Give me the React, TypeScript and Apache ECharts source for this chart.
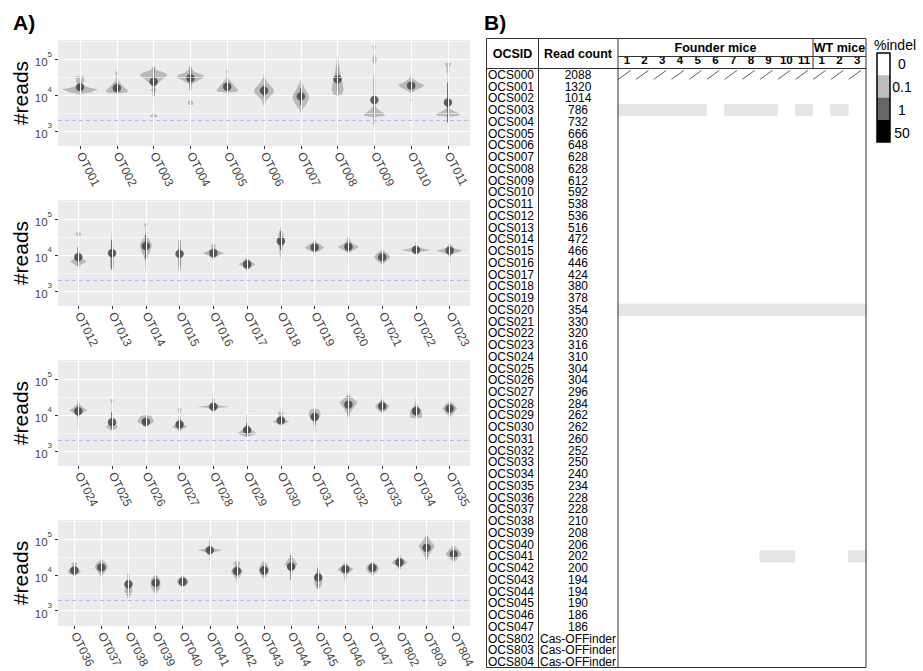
import React, { useEffect, useRef } from 'react';
import * as echarts from 'echarts';

const FONT = '"Liberation Sans", Arial, Helvetica, sans-serif';

// ---------- Panel A data ----------
const otNames = [
  'OT001','OT002','OT003','OT004','OT005','OT006','OT007','OT008','OT009','OT010','OT011',
  'OT012','OT013','OT014','OT015','OT016','OT017','OT018','OT019','OT020','OT021','OT022','OT023',
  'OT024','OT025','OT026','OT027','OT028','OT029','OT030','OT031','OT032','OT033','OT034','OT035',
  'OT036','OT037','OT038','OT039','OT040','OT041','OT042','OT043','OT044','OT045','OT046','OT047','OT802','OT803','OT804',
];
const panelSizes = [11, 12, 12, 15];

// mean of log10(#reads) per target
const meanLog10 = [
  4.22, 4.19, 4.37, 4.47, 4.23, 4.12, 3.96, 4.44, 3.86, 4.26, 3.79,
  3.94, 4.05, 4.25, 4.03, 4.05, 3.74, 4.39, 4.21, 4.23, 3.94, 4.14, 4.12,
  4.11, 3.80, 3.81, 3.74, 4.23, 3.58, 3.85, 3.95, 4.29, 4.25, 4.11, 4.18,
  4.13, 4.21, 3.74, 3.78, 3.81, 4.69, 4.11, 4.13, 4.23, 3.93, 4.16, 4.20, 4.35, 4.76, 4.58,
];
const errLowLog10 = [
  4.15, 4.10, 3.96, 4.14, 4.14, 3.96, 3.72, 4.10, 3.17, 4.15, 3.23,
  3.70, 3.60, 3.90, 3.68, 3.97, 3.65, 4.14, 4.14, 4.14, 3.86, 4.09, 4.07,
  3.95, 3.60, 3.74, 3.55, 4.19, 3.40, 3.76, 3.72, 4.00, 4.10, 3.98, 4.05,
  4.05, 4.08, 3.35, 3.58, 3.72, 4.62, 3.98, 4.00, 3.86, 3.62, 4.08, 4.10, 4.26, 4.46, 4.46,
];
const errHighLog10 = [
  4.30, 4.33, 4.79, 4.80, 4.33, 4.28, 4.19, 4.78, 4.56, 4.38, 4.35,
  4.22, 4.42, 4.56, 4.42, 4.13, 3.85, 4.66, 4.28, 4.32, 4.02, 4.19, 4.17,
  4.27, 4.08, 3.90, 3.95, 4.28, 3.78, 3.95, 4.13, 4.55, 4.40, 4.24, 4.30,
  4.20, 4.34, 4.05, 3.98, 3.90, 4.76, 4.22, 4.26, 4.55, 4.18, 4.24, 4.30, 4.44, 5.08, 4.70,
];
// violin outlines: [log10(#reads), half width in category units]
const violinProfiles: number[][][] = [
  [[4.02,0],[4.08,.3],[4.16,.48],[4.21,.25],[4.27,.06],[4.33,.04],[4.35,.11],[4.52,.11],[4.53,0]],
  [[4.04,0],[4.07,.28],[4.12,.30],[4.2,.22],[4.3,.12],[4.4,.05],[4.5,.02],[4.56,.01],[4.58,.05],[4.65,.04],[4.66,0]],
  [[3.38,0],[3.40,.12],[3.47,.04],[3.52,.01],[3.95,.01],[4.08,.03],[4.14,.08],[4.2,.03],[4.3,.08],[4.45,.25],[4.55,.38],[4.62,.3],[4.7,.08],[4.79,.02],[4.8,0]],
  [[3.72,0],[3.73,.07],[3.82,.07],[3.86,.01],[4.1,.01],[4.3,.04],[4.4,.2],[4.47,.35],[4.55,.36],[4.62,.15],[4.72,.03],[4.76,.05],[4.8,0]],
  [[4.06,0],[4.09,.25],[4.14,.3],[4.22,.22],[4.35,.12],[4.45,.05],[4.52,.02],[4.6,.01],[4.63,.04],[4.69,.04],[4.7,0]],
  [[3.69,0],[3.75,.03],[3.85,.06],[3.95,.15],[4.05,.26],[4.15,.27],[4.25,.18],[4.38,.08],[4.5,.03],[4.6,0]],
  [[3.48,0],[3.6,.05],[3.75,.15],[3.9,.22],[4.0,.22],[4.12,.14],[4.3,.05],[4.44,0]],
  [[3.97,0],[4.02,.12],[4.15,.16],[4.3,.14],[4.5,.1],[4.7,.06],[4.9,.03],[5.15,0]],
  [[3.38,0],[3.42,.29],[3.5,.25],[3.58,.12],[3.68,.03],[3.8,.01],[4.8,.01],[4.9,.03],[5.0,.07],[5.1,.03],[5.2,.01],[5.3,.03],[5.37,.05],[5.38,0]],
  [[3.83,0],[3.85,.04],[3.9,.01],[4.05,.01],[4.12,.1],[4.22,.3],[4.28,.36],[4.35,.2],[4.45,.06],[4.52,.04],[4.56,0]],
  [[3.39,0],[3.42,.3],[3.48,.32],[3.55,.15],[3.62,.04],[3.75,.01],[4.6,.01],[4.68,.05],[4.73,.03],[4.8,.05],[4.88,.1],[4.9,0]],
  [[3.66,0],[3.75,.12],[3.82,.25],[3.9,.12],[4.0,.04],[4.15,.01],[4.52,.01],[4.55,.07],[4.62,.08],[4.63,0]],
  [[3.55,0],[3.65,.05],[3.8,.06],[4.0,.06],[4.2,.04],[4.5,.02],[4.75,0]],
  [[3.55,0],[3.7,.01],[3.85,.03],[4.0,.08],[4.15,.15],[4.28,.18],[4.4,.12],[4.5,.05],[4.58,.02],[4.8,.02],[4.83,.05],[4.88,.05],[4.89,0]],
  [[3.48,0],[3.6,.04],[3.8,.05],[4.0,.05],[4.2,.04],[4.4,.02],[4.63,0]],
  [[3.7,0],[3.72,.03],[3.75,.01],[3.9,.02],[3.98,.15],[4.05,.31],[4.12,.15],[4.2,.04],[4.25,.07],[4.3,.06],[4.31,0]],
  [[3.5,0],[3.58,.03],[3.65,.1],[3.74,.25],[3.82,.12],[3.9,.04],[3.98,0]],
  [[3.9,0],[4.0,.03],[4.15,.05],[4.3,.09],[4.45,.1],[4.6,.07],[4.72,.03],[4.78,0]],
  [[4.06,0],[4.12,.15],[4.21,.29],[4.3,.15],[4.36,.05],[4.4,.04],[4.41,0]],
  [[3.84,0],[3.87,.03],[3.9,.01],[4.05,.01],[4.12,.12],[4.23,.32],[4.32,.12],[4.4,.06],[4.47,.04],[4.48,0]],
  [[3.72,0],[3.8,.1],[3.9,.22],[3.97,.23],[4.05,.15],[4.12,.05],[4.15,0]],
  [[4.06,0],[4.1,.2],[4.14,.44],[4.18,.2],[4.25,.03],[4.34,.02],[4.35,0]],
  [[3.8,0],[3.83,.03],[3.9,.01],[4.02,.05],[4.12,.39],[4.2,.1],[4.3,.03],[4.34,0]],
  [[3.7,0],[3.72,.03],[3.8,.01],[3.98,.03],[4.05,.12],[4.13,.27],[4.22,.12],[4.32,.03],[4.41,.02],[4.42,0]],
  [[3.55,0],[3.62,.12],[3.67,.18],[3.75,.1],[3.85,.02],[4.3,.01],[4.38,.05],[4.44,.05],[4.45,0]],
  [[3.65,0],[3.72,.1],[3.81,.25],[3.9,.2],[3.98,.15],[4.0,0]],
  [[3.55,0],[3.62,.12],[3.67,.22],[3.75,.1],[3.85,.02],[4.0,.01],[4.12,.05],[4.18,.06],[4.19,0]],
  [[4.15,0],[4.2,.2],[4.23,.49],[4.26,.2],[4.32,.05],[4.45,.04],[4.46,0]],
  [[3.38,0],[3.45,.2],[3.5,.29],[3.56,.18],[3.65,.05],[3.8,.02],[3.95,.02],[3.98,.04],[4.0,0]],
  [[3.7,0],[3.76,.12],[3.81,.25],[3.88,.12],[3.95,.04],[4.03,.08],[4.09,.08],[4.1,0]],
  [[3.42,0],[3.5,.02],[3.65,.03],[3.8,.05],[3.9,.12],[4.0,.18],[4.1,.16],[4.17,.1],[4.18,0]],
  [[3.38,0],[3.4,.02],[3.45,.01],[3.85,.01],[4.05,.05],[4.2,.15],[4.35,.27],[4.45,.15],[4.55,.04],[4.62,0]],
  [[4.05,0],[4.12,.1],[4.25,.22],[4.35,.08],[4.45,.02],[4.64,0]],
  [[3.9,0],[3.93,.18],[4.05,.18],[4.15,.15],[4.25,.06],[4.35,.02],[4.55,0]],
  [[3.84,0],[3.95,.02],[4.05,.12],[4.18,.22],[4.3,.12],[4.38,0]],
  [[3.98,0],[4.03,.18],[4.1,.24],[4.18,.15],[4.25,.05],[4.28,.1],[4.34,.1],[4.35,0]],
  [[3.84,0],[3.95,.02],[4.05,.1],[4.15,.2],[4.23,.24],[4.33,.18],[4.42,.05],[4.47,0]],
  [[3.4,0],[3.45,.1],[3.55,.15],[3.65,.12],[3.75,.05],[3.9,.02],[4.2,.01],[4.5,0]],
  [[3.42,0],[3.5,.05],[3.6,.14],[3.72,.18],[3.85,.17],[3.95,.1],[4.0,0]],
  [[3.65,0],[3.72,.15],[3.8,.22],[3.88,.18],[3.95,.08],[3.98,0]],
  [[4.4,0],[4.43,.03],[4.5,.01],[4.62,.05],[4.69,.46],[4.74,.15],[4.82,.04],[4.95,.02],[4.97,0]],
  [[3.8,0],[3.9,.05],[4.0,.15],[4.09,.22],[4.18,.15],[4.25,.08],[4.3,.12],[4.37,.12],[4.38,0]],
  [[3.88,0],[3.95,.08],[4.05,.16],[4.15,.18],[4.25,.15],[4.35,.07],[4.42,0]],
  [[3.38,0],[3.42,.03],[3.48,.01],[3.9,.01],[4.05,.03],[4.2,.12],[4.3,.24],[4.42,.12],[4.55,.03],[4.65,0]],
  [[3.58,0],[3.65,.08],[3.75,.14],[3.88,.15],[4.0,.1],[4.15,.03],[4.45,0]],
  [[3.82,0],[3.88,.04],[4.02,.08],[4.16,.3],[4.25,.12],[4.3,.1],[4.33,0]],
  [[4.0,0],[4.07,.15],[4.17,.24],[4.27,.18],[4.35,.06],[4.38,0]],
  [[4.02,0],[4.05,.03],[4.12,.01],[4.25,.1],[4.35,.3],[4.45,.12],[4.55,.03],[4.57,0]],
  [[3.88,0],[3.9,.03],[3.93,.01],[4.1,.02],[4.15,.01],[4.4,.02],[4.6,.12],[4.8,.3],[4.9,.2],[5.05,.06],[5.16,0]],
  [[4.35,0],[4.45,.15],[4.58,.3],[4.68,.2],[4.8,.05],[4.83,0]],
];
const thresholdReads = 2000;
const majorBreaks = [1000, 10000, 100000];
const minorBreaks = [3162, 31623, 316228];

// ---------- Panel B data ----------
const ocsIds = [
  'OCS000','OCS001','OCS002','OCS003','OCS004','OCS005','OCS006','OCS007','OCS008','OCS009',
  'OCS010','OCS011','OCS012','OCS013','OCS014','OCS015','OCS016','OCS017','OCS018','OCS019',
  'OCS020','OCS021','OCS022','OCS023','OCS024','OCS025','OCS026','OCS027','OCS028','OCS029',
  'OCS030','OCS031','OCS032','OCS033','OCS034','OCS035','OCS036','OCS037','OCS038','OCS039',
  'OCS040','OCS041','OCS042','OCS043','OCS044','OCS045','OCS046','OCS047','OCS802','OCS803','OCS804',
];
const readCounts: (number | string)[] = [
  2088, 1320, 1014, 786, 732, 666, 648, 628, 628, 612,
  592, 538, 536, 516, 472, 466, 446, 424, 380, 378,
  354, 330, 320, 316, 310, 304, 304, 296, 284, 262,
  262, 260, 252, 250, 240, 234, 228, 228, 210, 208,
  206, 202, 200, 194, 194, 190, 186, 186, 'Cas-OFFinder', 'Cas-OFFinder', 'Cas-OFFinder',
];
const mouseColumns = ['F1','F2','F3','F4','F5','F6','F7','F8','F9','F10','F11','W1','W2','W3'];
// [mouse column, OCS id, %indel]
const indelCells: [string, string, number][] = [
  ['F1','OCS003',0.05],['F2','OCS003',0.05],['F3','OCS003',0.05],['F4','OCS003',0.05],['F5','OCS003',0.05],
  ['F7','OCS003',0.05],['F8','OCS003',0.05],['F9','OCS003',0.05],['F11','OCS003',0.05],['W2','OCS003',0.05],
  ['F1','OCS020',0.05],['F2','OCS020',0.05],['F3','OCS020',0.05],['F4','OCS020',0.05],['F5','OCS020',0.05],
  ['F6','OCS020',0.05],['F7','OCS020',0.05],['F8','OCS020',0.05],['F9','OCS020',0.05],['F10','OCS020',0.05],
  ['F11','OCS020',0.05],['W1','OCS020',0.05],['W2','OCS020',0.05],['W3','OCS020',0.05],
  ['F9','OCS041',0.05],['F10','OCS041',0.05],['W3','OCS041',0.05],
];
const noDataRow = 'OCS000';
const legendLabels = ['0', '0.1', '1', '50'];
const legendColors = ['#ffffff', '#bdbdbd', '#666666', '#000000'];

function buildOption() {
  const grids: any[] = [];
  const xAxes: any[] = [];
  const yAxes: any[] = [];
  const series: any[] = [];
  const panelTops = [40, 200, 360, 520];
  let offset = 0;

  panelSizes.forEach((n, p) => {
    const start = offset;
    const names = otNames.slice(start, start + n);
    const xs = names.map((_, i) => i + 1);
    grids.push({ left: 58, top: panelTops[p], width: 412, height: 106, show: true, backgroundColor: '#ebebeb', borderWidth: 0 });
    xAxes.push({
      type: 'value', gridIndex: p, min: 0.4, max: n + 0.6,
      axisLine: { show: false },
      splitLine: { show: false },
      axisTick: { show: true, customValues: xs, length: 3, lineStyle: { color: '#333' } },
      axisLabel: {
        customValues: xs, rotate: -63, margin: 7, fontSize: 12, color: '#444', fontFamily: FONT,
        formatter: (v: number) => names[Math.round(v) - 1] ?? '',
      },
    });
    yAxes.push({
      type: 'log', logBase: 10, gridIndex: p, min: 376, max: 343600,
      name: '#reads', nameLocation: 'middle', nameGap: 21,
      nameTextStyle: { fontSize: 21, color: '#000', fontFamily: FONT },
      axisLine: { show: false },
      axisTick: { show: true, customValues: majorBreaks, length: 3, lineStyle: { color: '#333' } },
      axisLabel: {
        customValues: majorBreaks, margin: 6,
        formatter: (v: number) => `{b|10}{s|${Math.round(Math.log10(v))}}`,
        rich: {
          b: { fontSize: 11.5, color: '#444', fontFamily: FONT, padding: [6, 0, 0, 0] },
          s: { fontSize: 8, color: '#444', fontFamily: FONT, verticalAlign: 'top' },
        },
      },
      splitLine: { show: true, lineStyle: { color: '#ffffff', width: 1.1 } },
    });
    series.push({
      type: 'scatter', xAxisIndex: p, yAxisIndex: p, data: [[1, 1000]], symbolSize: 0, silent: true, z: 1,
      markLine: {
        silent: true, symbol: 'none', label: { show: false },
        data: [
          ...xs.map((x) => ({ xAxis: x, lineStyle: { color: '#ffffff', width: 1.1, type: 'solid' } })),
          ...minorBreaks.map((y) => ({ yAxis: y, lineStyle: { color: '#ffffff', width: 0.6, type: 'solid' } })),
          { yAxis: thresholdReads, lineStyle: { color: '#b8b8ec', width: 1, type: [4, 3] } },
        ],
      },
    });
    series.push({
      type: 'custom', xAxisIndex: p, yAxisIndex: p, z: 2, silent: true,
      encode: { x: 0, y: 1 },
      data: names.map((_, i) => [i + 1, Math.pow(10, meanLog10[start + i]), start + i]),
      renderItem: (params: any, api: any) => {
        const x = api.value(0);
        const idx = api.value(2);
        const prof = violinProfiles[idx];
        const right = prof.map(([lv, w]) => api.coord([x + w, Math.pow(10, lv)]));
        const left = prof.slice().reverse().map(([lv, w]) => api.coord([x - w, Math.pow(10, lv)]));
        const lo = api.coord([x, Math.pow(10, errLowLog10[idx])]);
        const hi = api.coord([x, Math.pow(10, errHighLog10[idx])]);
        const c = api.coord([x, Math.pow(10, meanLog10[idx])]);
        return {
          type: 'group',
          children: [
            { type: 'polygon', shape: { points: right.concat(left) }, style: { fill: 'rgba(125,125,125,0.45)' } },
            { type: 'line', shape: { x1: lo[0], y1: lo[1], x2: hi[0], y2: hi[1] }, style: { stroke: 'rgba(60,60,60,0.85)', lineWidth: 1.5 } },
            { type: 'circle', shape: { cx: c[0], cy: c[1], r: 4.2 }, style: { fill: 'rgba(55,55,55,0.78)' } },
          ],
        };
      },
    });
    offset += n;
  });

  // ---------- Panel B grid ----------
  const tg = grids.length;
  grids.push({ left: 618, top: 69, width: 248, height: 599 });
  xAxes.push({
    type: 'category', gridIndex: tg, position: 'top', data: mouseColumns,
    axisLine: { show: false }, axisTick: { show: false }, splitLine: { show: false },
    axisLabel: { interval: 0, margin: 3, fontSize: 11.5, fontWeight: 'bold', color: '#000', fontFamily: FONT, formatter: (v: string) => v.slice(1) },
  });
  const yIdx = yAxes.length;
  yAxes.push({
    type: 'category', gridIndex: tg, position: 'left', data: ocsIds, inverse: true,
    axisLine: { show: false }, axisTick: { show: false }, splitLine: { show: false },
    axisLabel: { interval: 0, align: 'left', margin: 130, fontSize: 12, lineHeight: 11, color: '#000', fontFamily: FONT },
  });
  yAxes.push({
    type: 'category', gridIndex: tg, position: 'left', data: ocsIds, inverse: true,
    axisLine: { show: false }, axisTick: { show: false }, splitLine: { show: false },
    axisLabel: { interval: 0, align: 'center', margin: 40, fontSize: 12, lineHeight: 11, color: '#000', fontFamily: FONT, formatter: (_v: string, i: number) => String(readCounts[i]) },
  });
  const heatIdx = series.length;
  series.push({
    type: 'heatmap', xAxisIndex: tg, yAxisIndex: yIdx, silent: true,
    data: indelCells.map(([c, r, v]) => [mouseColumns.indexOf(c), ocsIds.indexOf(r), v]),
    itemStyle: { borderWidth: 0 },
    emphasis: { disabled: true },
  });
  series.push({
    type: 'custom', xAxisIndex: tg, yAxisIndex: yIdx, silent: true, z: 3,
    data: mouseColumns.map((_, i) => [i, ocsIds.indexOf(noDataRow)]),
    renderItem: (params: any, api: any) => {
      const c = api.coord([api.value(0), api.value(1)]);
      const s = api.size([1, 1]);
      return {
        type: 'line',
        shape: { x1: c[0] - s[0] * 0.48, y1: c[1] + s[1] * 0.38, x2: c[0] + s[0] * 0.22, y2: c[1] - s[1] * 0.38 },
        style: { stroke: '#333', lineWidth: 0.8 },
      };
    },
  });

  const line = (x1: number, y1: number, x2: number, y2: number) => ({
    type: 'line', z: 100, silent: true, shape: { x1, y1, x2, y2 }, style: { stroke: '#333', lineWidth: 1 },
  });
  const text = (t: string, x: number, y: number, size: number, weight: string, align = 'center') => ({
    type: 'text', z: 100, silent: true, x, y,
    style: { text: t, fontSize: size, fontWeight: weight, fontFamily: FONT, fill: '#000', align, verticalAlign: 'middle' },
  });

  const graphic: any[] = [
    text('A)', 13, 22, 21, 'bold', 'left'),
    text('B)', 484, 22, 21, 'bold', 'left'),
    { type: 'rect', z: 100, silent: true, shape: { x: 486.5, y: 38.5, width: 379.5, height: 629 }, style: { fill: 'none', stroke: '#333', lineWidth: 1 } },
    line(538.5, 38.5, 538.5, 667.5),
    line(618, 38.5, 618, 667.5),
    line(813, 38.5, 813, 68.5),
    line(618, 56.5, 866, 56.5),
    line(486.5, 68.5, 866, 68.5),
    text('OCSID', 512.5, 54, 12.5, 'bold'),
    text('Read count', 578, 54, 12.5, 'bold'),
    text('Founder mice', 715.5, 47.5, 12.5, 'bold'),
    text('WT mice', 839.5, 47.5, 12.5, 'bold'),
    text('%indel', 874, 45, 14, 'normal', 'left'),
  ];
  legendColors.forEach((col, i) => {
    graphic.push({ type: 'rect', z: 100, silent: true, shape: { x: 877, y: 53 + i * 22.25, width: 13, height: 22.25 }, style: { fill: col } });
    graphic.push(text(legendLabels[i], 902, 64 + i * 23, 14, 'normal'));
  });
  graphic.push({ type: 'rect', z: 101, silent: true, shape: { x: 877, y: 53, width: 13, height: 89 }, style: { fill: 'none', stroke: '#000', lineWidth: 1.5 } });

  return {
    animation: false,
    backgroundColor: '#ffffff',
    textStyle: { fontFamily: FONT },
    grid: grids,
    xAxis: xAxes,
    yAxis: yAxes,
    visualMap: {
      type: 'piecewise', show: false, seriesIndex: heatIdx, dimension: 2,
      pieces: [
        { gt: 0, lt: 0.1, color: '#e6e6e6' },
        { gte: 0.1, lt: 1, color: legendColors[1] },
        { gte: 1, lt: 50, color: legendColors[2] },
        { gte: 50, color: legendColors[3] },
      ],
    },
    series,
    graphic,
  };
}

export default function App() {
  const ref = useRef<HTMLDivElement>(null);
  useEffect(() => {
    const chart = echarts.init(ref.current!, null, { renderer: 'svg' });
    chart.setOption(buildOption() as any);
    return () => chart.dispose();
  }, []);
  return <div ref={ref} style={{ position: 'fixed', left: 0, top: 0, width: 923, height: 671, background: '#fff' }} />;
}
